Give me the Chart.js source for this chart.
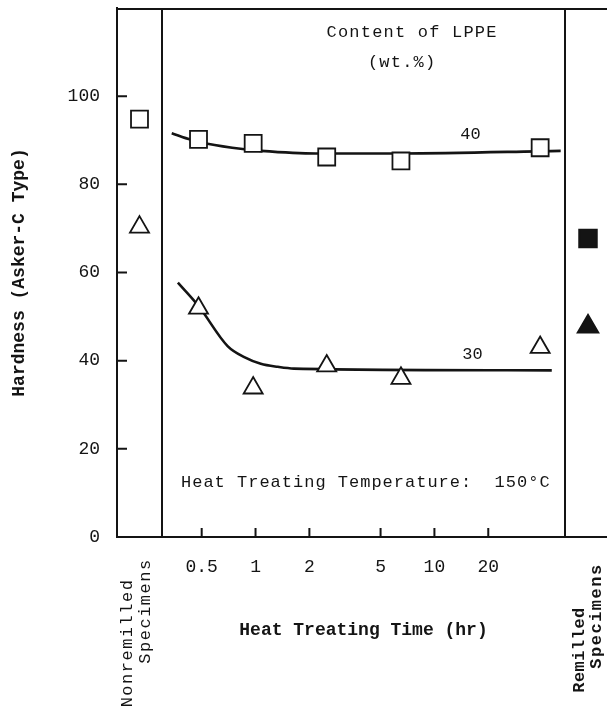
<!DOCTYPE html>
<html>
<head>
<meta charset="utf-8">
<script src="https://cdn.jsdelivr.net/npm/chart.js@4.4.1/dist/chart.umd.min.js"></script>
<style>
  html, body { margin: 0; padding: 0; background: #fff; overflow: hidden; }
  #wrap { position: absolute; left: 0; top: 0; width: 611px; height: 710px; }
</style>
</head>
<body>
<div id="wrap"><canvas id="chart" width="611" height="710"></canvas></div>
<script>
// Heat treating time (hr) of the measured specimens
const timeHr = [0.48, 0.97, 2.5, 6.5, 39];
// Hardness (Asker-C) for 40 and 30 wt.% LPPE
const hard40 = [90.2, 89.3, 86.2, 85.3, 88.3];
const hard30 = [51.9, 33.8, 38.8, 36.0, 43.0];
// Side panels
const nonremilledCat = ['Nonremilled Specimens'];
const remilledCat = ['Remilled Specimens'];
const nonremilled40 = [94.8];
const nonremilled30 = [70.3];
const remilled40 = [67.7];
const remilled30 = [47.7];
// Hand-drawn curves through the data
const fit40Time = [0.34, 0.436, 0.539, 0.846, 1.07, 2.17, 6.5, 50.8];
const fit40Hard = [91.6, 90.1, 89.2, 88.0, 87.6, 87.0, 87.0, 87.6];
const fit30Time = [0.368, 0.478, 0.698, 0.865, 1.07, 1.33, 1.64, 45.3];
const fit30Hard = [57.7, 52.5, 43.3, 40.8, 39.3, 38.6, 38.2, 37.8];
// Tick labels
const yTicks = [0, 20, 40, 60, 80, 100];
const xTicks = [0.5, 1, 2, 5, 10, 20];

const INK = '#141414';
const MONO = "'Liberation Mono', 'DejaVu Sans Mono', monospace";

const pts = (xs, ys) => xs.map((x, i) => ({ x, y: ys[i] }));

function drawText(ctx, str, x, y, opts = {}) {
  ctx.save();
  ctx.font = opts.font || `17px ${MONO}`;
  ctx.fillStyle = INK;
  ctx.letterSpacing = opts.spacing || '0px';
  ctx.textAlign = opts.align || 'center';
  ctx.textBaseline = 'middle';
  ctx.translate(x, y);
  if (opts.rotate) ctx.rotate(-Math.PI / 2);
  ctx.fillText(str, 0, 0);
  ctx.restore();
}

// no label overhang padding: the frame is fixed
function noPad(s) {
  s.paddingLeft = 0; s.paddingRight = 0;
  s.paddingTop = 0; s.paddingBottom = 0;
}

// Frame, inward ticks and the notes written on the plot
const framePlugin = {
  id: 'frame',
  afterDraw(chart) {
    const { ctx, chartArea: a, scales } = chart;
    const xs = scales.x, ys = scales.y, xl = scales.xL, xr = scales.xR;
    ctx.save();
    ctx.strokeStyle = INK;
    ctx.lineWidth = 2;
    ctx.beginPath();
    ctx.moveTo(a.left, a.top + 1); ctx.lineTo(a.right, a.top + 1);
    ctx.moveTo(xl.right, a.top); ctx.lineTo(xl.right, a.bottom);
    ctx.moveTo(xr.left, a.top); ctx.lineTo(xr.left, a.bottom);
    yTicks.forEach(v => {
      const y = ys.getPixelForValue(v);
      ctx.moveTo(a.left, y); ctx.lineTo(a.left + 10, y);
    });
    xTicks.forEach(v => {
      const x = xs.getPixelForValue(v);
      ctx.moveTo(x, a.bottom); ctx.lineTo(x, a.bottom - 9);
    });
    ctx.stroke();
    ctx.restore();

    const at = (t, v) => [xs.getPixelForValue(t), ys.getPixelForValue(v)];
    drawText(ctx, 'Content of LPPE', ...at(7.5, 114.5), { spacing: '1.2px' });
    drawText(ctx, '(wt.%)', ...at(6.6, 107.7), { spacing: '1.2px' });
    drawText(ctx, '40', ...at(15.9, 91.4));
    drawText(ctx, '30', ...at(16.3, 41.4));
    drawText(ctx, 'Heat Treating Temperature:  150°C', ...at(0.383, 12.3), { align: 'left', spacing: '1px' });

    const cl = (xl.left + xl.right) / 2, cr = (xr.left + xr.right) / 2;
    drawText(ctx, 'Nonremilled', cl - 12, 643, { rotate: true, spacing: '1.5px' });
    drawText(ctx, 'Specimens', cl + 6, 611, { rotate: true, spacing: '1.5px' });
    drawText(ctx, 'Remilled', cr - 8, 650, { rotate: true, font: `bold 17px ${MONO}`, spacing: '0.5px' });
    drawText(ctx, 'Specimens', cr + 9, 616, { rotate: true, font: `bold 17px ${MONO}`, spacing: '1.5px' });
  }
};

const markerBase = {
  showLine: false,
  borderColor: INK,
  borderWidth: 1.8,
  order: 0
};

const curveBase = {
  xAxisID: 'x',
  borderColor: INK,
  borderWidth: 2.6,
  pointRadius: 0,
  cubicInterpolationMode: 'monotone',
  fill: false,
  order: 2
};

const sideAxis = (labels, weight) => ({
  type: 'category',
  labels,
  position: 'bottom',
  stack: 'bottom',
  stackWeight: weight,
  offset: true,
  grid: { display: false, drawTicks: false },
  ticks: { display: false },
  border: { display: true, color: INK, width: 2 },
  afterFit(s) { s.height = 173; noPad(s); }
});

new Chart(document.getElementById('chart'), {
  type: 'line',
  data: {
    datasets: [
      { ...curveBase, data: pts(fit40Time, fit40Hard) },
      { ...curveBase, data: pts(fit30Time, fit30Hard) },
      { ...markerBase, xAxisID: 'x', data: pts(timeHr, hard40),
        pointStyle: 'rect', pointRadius: 12, backgroundColor: '#fff' },
      { ...markerBase, xAxisID: 'x', data: pts(timeHr, hard30),
        pointStyle: 'triangle', pointRadius: 11, backgroundColor: '#fff' },
      { ...markerBase, xAxisID: 'xL', data: pts(nonremilledCat, nonremilled40),
        pointStyle: 'rect', pointRadius: 12, backgroundColor: '#fff' },
      { ...markerBase, xAxisID: 'xL', data: pts(nonremilledCat, nonremilled30),
        pointStyle: 'triangle', pointRadius: 11, backgroundColor: '#fff' },
      { ...markerBase, xAxisID: 'xR', data: pts(remilledCat, remilled40),
        pointStyle: 'rect', pointRadius: 12.5, backgroundColor: INK },
      { ...markerBase, xAxisID: 'xR', data: pts(remilledCat, remilled30),
        pointStyle: 'triangle', pointRadius: 12, backgroundColor: INK }
    ]
  },
  options: {
    responsive: false,
    animation: false,
    devicePixelRatio: 1,
    layout: { autoPadding: false, padding: { top: 8, left: 0, right: 0, bottom: 0 } },
    plugins: {
      legend: { display: false },
      tooltip: { enabled: false }
    },
    scales: {
      xL: sideAxis(nonremilledCat, 45),
      x: {
        type: 'logarithmic',
        position: 'bottom',
        stack: 'bottom',
        stackWeight: 403,
        min: 0.304,
        max: 53.7,
        afterBuildTicks(s) { s.ticks = xTicks.map(v => ({ value: v })); },
        grid: { display: false, drawTicks: false },
        border: { display: true, color: INK, width: 2 },
        ticks: {
          color: INK,
          padding: 19,
          maxRotation: 0,
          autoSkip: false,
          font: { family: MONO, size: 18 },
          callback: v => String(v)
        },
        title: {
          display: true,
          text: 'Heat Treating Time (hr)',
          color: INK,
          font: { family: MONO, size: 18, weight: 'bold' },
          padding: { top: 0, bottom: 69 }
        },
        afterFit(s) { s.height = 173; noPad(s); }
      },
      xR: sideAxis(remilledCat, 46),
      y: {
        type: 'linear',
        position: 'left',
        min: 0,
        max: 120,
        afterBuildTicks(s) { s.ticks = yTicks.map(v => ({ value: v })); },
        grid: { display: false, drawTicks: false },
        border: { display: true, color: INK, width: 2 },
        ticks: {
          color: INK,
          padding: 17,
          font: { family: MONO, size: 18 }
        },
        title: {
          display: true,
          text: 'Hardness (Asker-C Type)',
          color: INK,
          font: { family: MONO, size: 18, weight: 'bold' },
          padding: { top: 9, bottom: 0 }
        },
        afterFit(s) { s.width = 117; noPad(s); }
      }
    }
  },
  plugins: [framePlugin]
});
</script>
</body>
</html>
